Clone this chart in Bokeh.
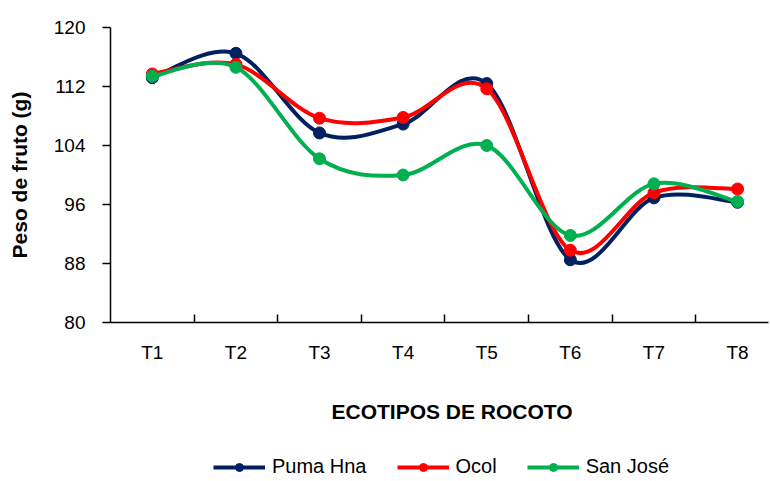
from bokeh.plotting import figure
from bokeh.models import FixedTicker, Legend, LegendItem, Range1d, Title
from bokeh.layouts import column
from bokeh.embed import file_html
from bokeh.resources import INLINE

categories = ["T1", "T2", "T3", "T4", "T5", "T6", "T7", "T8"]
puma_hna = [113.2, 116.5, 105.7, 106.9, 112.4, 88.5, 96.9, 96.3]
ocol = [113.7, 115.0, 107.7, 107.8, 111.7, 89.8, 97.6, 98.1]
san_jose = [113.4, 114.6, 102.2, 100.0, 104.0, 91.8, 98.8, 96.4]
y_ticks = [80, 88, 96, 104, 112, 120]

series = [
    ("Puma Hna", puma_hna, "#002060"),
    ("Ocol", ocol, "#FF0000"),
    ("San José", san_jose, "#00B050"),
]

FONT = "Liberation Sans"

p = figure(
    frame_width=658, frame_height=295,
    min_border_left=110, min_border_right=2, min_border_top=27, min_border_bottom=136,
    x_range=Range1d(-0.5, 7.37), y_range=Range1d(80, 120),
    output_backend="svg", toolbar_location=None,
)
p.outline_line_color = None
p.xgrid.visible = False
p.ygrid.visible = False
p.background_fill_color = "white"
p.border_fill_color = "white"

xs = list(range(len(categories)))


def smooth(xv, yv):
    n = len(xv)
    out = {k: [] for k in ("x0", "y0", "x1", "y1", "cx0", "cy0", "cx1", "cy1")}
    for i in range(n - 1):
        i0 = max(i - 1, 0)
        i3 = min(i + 2, n - 1)
        out["x0"].append(xv[i]); out["y0"].append(yv[i])
        out["x1"].append(xv[i + 1]); out["y1"].append(yv[i + 1])
        out["cx0"].append(xv[i] + (xv[i + 1] - xv[i0]) / 6)
        out["cy0"].append(yv[i] + (yv[i + 1] - yv[i0]) / 6)
        out["cx1"].append(xv[i + 1] - (xv[i3] - xv[i]) / 6)
        out["cy1"].append(yv[i + 1] - (yv[i3] - yv[i]) / 6)
    return out


for name, vals, col in series:
    s = smooth(xs, vals)
    p.bezier(x0=s["x0"], y0=s["y0"], x1=s["x1"], y1=s["y1"],
             cx0=s["cx0"], cy0=s["cy0"], cx1=s["cx1"], cy1=s["cy1"],
             line_color=col, line_width=4)
    p.scatter(xs, vals, marker="circle", size=12, fill_color=col, line_color=col)

# X axis
xa = p.xaxis[0]
xa.ticker = FixedTicker(ticks=xs, minor_ticks=[i + 0.5 for i in range(7)])
xa.major_label_overrides = {i: c for i, c in enumerate(categories)}
xa.major_tick_line_color = None
xa.minor_tick_in = 8
xa.minor_tick_out = 0
xa.minor_tick_line_color = "black"
xa.minor_tick_line_width = 1.5
xa.axis_line_color = "black"
xa.axis_line_width = 1.5
xa.major_label_standoff = 13
xa.major_label_text_font = FONT
xa.major_label_text_font_size = "19px"
xa.major_label_text_color = "black"

# Y axis
ya = p.yaxis[0]
ya.ticker = FixedTicker(ticks=y_ticks, minor_ticks=[])
ya.major_tick_in = 0
ya.major_tick_out = 8
ya.major_tick_line_width = 1.5
ya.major_tick_line_color = "black"
ya.axis_line_color = "black"
ya.axis_line_width = 1.5
ya.major_label_standoff = 17
ya.major_label_text_font = FONT
ya.major_label_text_font_size = "19px"
ya.major_label_text_color = "black"
ya.axis_label = "Peso de fruto (g)"
ya.axis_label_text_font = FONT
ya.axis_label_text_font_style = "bold"
ya.axis_label_text_font_size = "21px"
ya.axis_label_text_color = "black"
ya.axis_label_standoff = 20

# X axis title
p.add_layout(Title(text="ECOTIPOS  DE ROCOTO", align="left", offset=221, standoff=64,
                   text_font=FONT, text_font_style="bold", text_font_size="21px",
                   text_color="black"), "below")

# Legend strip below the chart (its own renderers lie outside its tiny view range)
leg = figure(width=770, height=23, min_border=0, x_range=Range1d(-3, -2), y_range=Range1d(-3, -2),
             x_axis_type=None, y_axis_type=None, output_backend="svg", toolbar_location=None)
leg.outline_line_color = None
leg.xgrid.visible = False
leg.ygrid.visible = False
leg.background_fill_color = "white"
leg.border_fill_color = "white"

items = []
for name, vals, col in series:
    l1 = leg.line(xs, vals, line_color=col, line_width=4)
    l2 = leg.scatter(xs, vals, marker="circle", size=12, fill_color=col, line_color=col)
    items.append(LegendItem(label=name, renderers=[l1, l2]))

legend = Legend(items=items, location=(103, 3), orientation="horizontal",
                glyph_width=52, glyph_height=20, label_standoff=7, spacing=30,
                padding=0, margin=0, border_line_color=None, background_fill_alpha=0,
                label_text_font=FONT, label_text_font_size="20px", label_text_color="black")
leg.add_layout(legend, "center")

layout = column(p, leg, spacing=0)
open("out.html", "w").write(file_html(layout, INLINE))
